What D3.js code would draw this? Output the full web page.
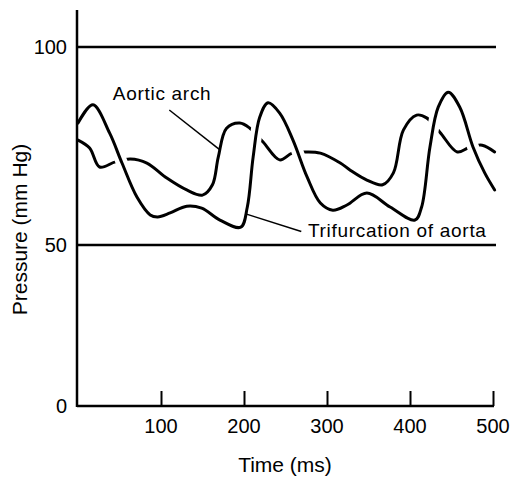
<!DOCTYPE html>
<html>
<head>
<meta charset="utf-8">
<script src="https://cdn.jsdelivr.net/npm/d3@7"></script>
<style>
  html, body { margin: 0; padding: 0; background: #fff; }
  svg { display: block; }
  text { font-family: "Liberation Sans", Arial, Helvetica, sans-serif; fill: #000; }
</style>
</head>
<body>
<svg id="chart" width="511" height="479"></svg>
<script>
// ---- data ----
const xTicks = [100, 200, 300, 400, 500];
const yTicks = [0, 50, 100];
const refLines = [50, 100];

const trifTime = [0, 18, 38, 53, 71, 87, 96, 111, 131, 149, 171, 196, 204, 211, 219, 229, 243, 259, 276, 292, 307, 324, 348, 376, 406, 414, 424, 434, 446, 460, 476, 490, 502];
const trifPressure = [80.8, 85.4, 78.3, 70.7, 62.1, 57.6, 57.1, 58.1, 59.8, 59.3, 56.3, 54.5, 59.6, 72.2, 82.3, 85.9, 83.3, 76.5, 67.2, 60.6, 58.8, 60.1, 63.1, 59.6, 56.3, 59.6, 74.7, 84.8, 88.6, 84.8, 74.7, 68.2, 63.9];

const aortTime = [0, 14, 26, 45, 63, 83, 107, 131, 150, 162, 169, 179, 195, 207, 223, 243, 258, 276, 292, 316, 328, 348, 367, 380, 392, 408, 420, 436, 457, 472, 487, 502];
const aortPressure = [76.5, 74.5, 69.7, 71.0, 71.7, 70.7, 66.9, 63.9, 62.6, 65.2, 72.2, 79.5, 80.8, 79.5, 76.0, 71.5, 73.2, 73.5, 73.2, 70.7, 68.9, 66.4, 65.2, 68.2, 79.0, 82.8, 82.1, 78.5, 73.5, 74.7, 75.2, 73.5];

const labels = ["Aortic arch", "Trifurcation of aorta"];
const xTitle = "Time (ms)";
const yTitle = "Pressure (mm Hg)";

// ---- scales ----
const svg = d3.select("#chart");
const x = d3.scaleLinear().domain([0, 500]).range([78, 493]);
// the printed axis is not evenly spaced: 0-50 is shorter than 50-100
const y = d3.scaleLinear().domain([0, 50, 100, 109.3]).range([406, 245, 47, 10]);

const line = d3.line()
  .x(d => x(d[0]))
  .y(d => y(d[1]))
  .curve(d3.curveCatmullRom.alpha(0.5));

const aort = aortTime.map((t, i) => [t, aortPressure[i]]);
const trif = trifTime.map((t, i) => [t, trifPressure[i]]);

// aortic arch curve (behind)
svg.append("path").datum(aort)
  .attr("d", line).attr("fill", "none")
  .attr("stroke", "#000").attr("stroke-width", 3).attr("stroke-linejoin", "round").attr("stroke-linecap", "round");

// trifurcation curve with a white halo that breaks the other curve at crossings
svg.append("path").datum(trif)
  .attr("d", line).attr("fill", "none")
  .attr("stroke", "#fff").attr("stroke-width", 12).attr("stroke-linejoin", "round");
svg.append("path").datum(trif)
  .attr("d", line).attr("fill", "none")
  .attr("stroke", "#000").attr("stroke-width", 3).attr("stroke-linejoin", "round").attr("stroke-linecap", "round");

// reference lines at 50 and 100
svg.selectAll(".ref").data(refLines).enter().append("line")
  .attr("x1", x(0) - 1).attr("x2", x(500) + 3)
  .attr("y1", d => y(d)).attr("y2", d => y(d))
  .attr("stroke", "#000").attr("stroke-width", 2.5);

// x axis (ticks point inward/up)
const xAxis = d3.axisTop(x).tickValues(xTicks).tickSize(15).tickFormat("");
const gx = svg.append("g").attr("transform", `translate(0,${y(0)})`).call(xAxis);
gx.select(".domain").remove();
gx.selectAll(".tick line").attr("stroke", "#000").attr("stroke-width", 2);
svg.append("line")
  .attr("x1", x(0) - 1).attr("x2", x(500) + 1)
  .attr("y1", y(0)).attr("y2", y(0))
  .attr("stroke", "#000").attr("stroke-width", 2.5);

svg.selectAll(".xlab").data(xTicks).enter().append("text")
  .attr("x", d => x(d)).attr("y", y(0) + 27)
  .attr("text-anchor", "middle").attr("font-size", 20)
  .text(d => d);

// y axis
svg.append("line")
  .attr("x1", x(0) - 1).attr("x2", x(0) - 1)
  .attr("y1", y(109.3)).attr("y2", y(0) + 1)
  .attr("stroke", "#000").attr("stroke-width", 2.5);
svg.selectAll(".ylab").data(yTicks).enter().append("text")
  .attr("x", x(0) - 11).attr("y", d => y(d) + 7)
  .attr("text-anchor", "end").attr("font-size", 20)
  .text(d => d);

// axis titles
svg.append("text")
  .attr("x", 285).attr("y", 472)
  .attr("text-anchor", "middle").attr("font-size", 21)
  .text(xTitle);
svg.append("text")
  .attr("transform", `translate(27,${(y(100) + y(0)) / 2 + 3}) rotate(-90)`)
  .attr("text-anchor", "middle").attr("font-size", 21)
  .text(yTitle);

// annotations (positions in data coordinates)
svg.append("text")
  .attr("x", x(42)).attr("y", y(86.6))
  .attr("font-size", 19).attr("letter-spacing", 0.7)
  .text(labels[0]);
svg.append("line")
  .attr("x1", x(110)).attr("y1", y(84.1))
  .attr("x2", x(171)).attr("y2", y(74.0))
  .attr("stroke", "#000").attr("stroke-width", 1.5);

svg.append("text")
  .attr("x", x(277)).attr("y", y(52))
  .attr("font-size", 19).attr("letter-spacing", 0.7)
  .text(labels[1]);
svg.append("line")
  .attr("x1", x(203)).attr("y1", y(57.8))
  .attr("x2", x(269)).attr("y2", y(53.4))
  .attr("stroke", "#000").attr("stroke-width", 1.5);
</script>
</body>
</html>
